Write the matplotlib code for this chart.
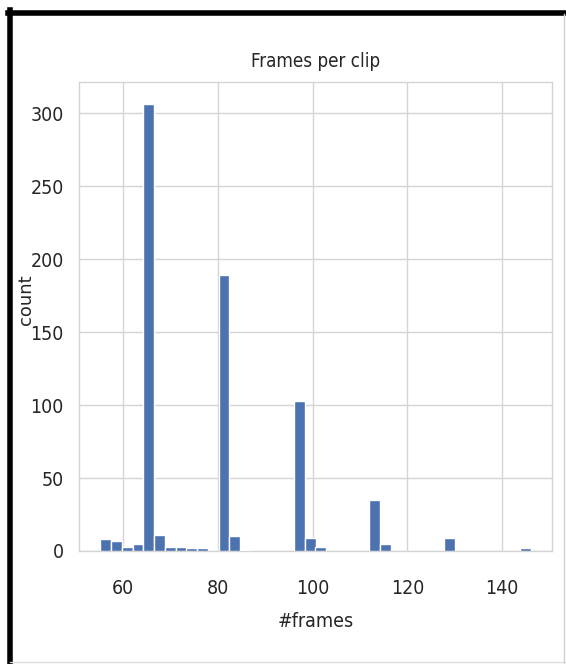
import matplotlib
matplotlib.use("Agg")
import matplotlib.pyplot as plt
from matplotlib.lines import Line2D

# Histogram of clip lengths: 40 equal-width bins
bin_start = 55.2
bin_width = 2.27
counts = [8, 7, 3, 5, 306, 11, 3, 3, 2, 2,
          0, 189, 10, 1, 0, 0, 0, 0, 103, 9,
          3, 0, 0, 0, 0, 35, 5, 0, 0, 0,
          0, 0, 9, 0, 0, 0, 0, 0, 0, 2]
x_ticks = [60, 80, 100, 120, 140]
y_ticks = [0, 50, 100, 150, 200, 250, 300]

title_text = "Frames per clip"
x_label = "#frames"
y_label = "count"

txt = dict(family="DejaVu Sans", fontstretch="condensed", color="#262626")

fig = plt.figure(figsize=(5.66, 6.64), dpi=100)
ax = fig.add_axes([79 / 566, 113 / 664, (552 - 79) / 566, (551 - 82) / 664])

edges = [bin_start + i * bin_width for i in range(len(counts))]
ax.bar(edges, counts, width=bin_width, align="edge", color="#4C72B0",
       edgecolor="white", linewidth=1.0, zorder=3)

ax.margins(x=0.05, y=0.05)
ax.set_ylim(bottom=0)
ax.set_xticks(x_ticks)
ax.set_yticks(y_ticks)
ax.grid(True, color="#d4d4d4", linewidth=1.0, zorder=0)
ax.set_axisbelow(True)
for s in ax.spines.values():
    s.set_color("#d4d4d4")
    s.set_linewidth(1.0)
ax.tick_params(length=0, labelsize=14, pad=11)
ax.tick_params(axis="x", pad=20)
for lab in ax.get_xticklabels() + ax.get_yticklabels():
    lab.set_family("DejaVu Sans")
    lab.set_fontstretch("condensed")
    lab.set_color("#262626")

ax.set_title(title_text, fontsize=13.5, pad=11, **txt)
ax.set_xlabel(x_label, fontsize=14, labelpad=10, **txt)
ax.set_ylabel(y_label, fontsize=13, family="DejaVu Sans", color="#262626")
ax.yaxis.set_label_coords(-0.092, 0.535)

# Frame around the figure: heavy black top/left, thin grey right/bottom
fig.add_artist(Line2D([8 / 566, 1.0], [1 - 12.5 / 664] * 2, color="black",
                      linewidth=4.0, transform=fig.transFigure))
fig.add_artist(Line2D([10 / 566] * 2, [0.0, 1 - 10 / 664], color="black",
                      linewidth=4.0, transform=fig.transFigure))
fig.add_artist(Line2D([564 / 566] * 2, [0.0, 1 - 14 / 664], color="#cfcfcf",
                      linewidth=1.0, transform=fig.transFigure))
fig.add_artist(Line2D([10 / 566, 1.0], [2 / 664] * 2, color="#dcdcdc",
                      linewidth=1.0, transform=fig.transFigure))

fig.savefig("out.png", dpi=100)
